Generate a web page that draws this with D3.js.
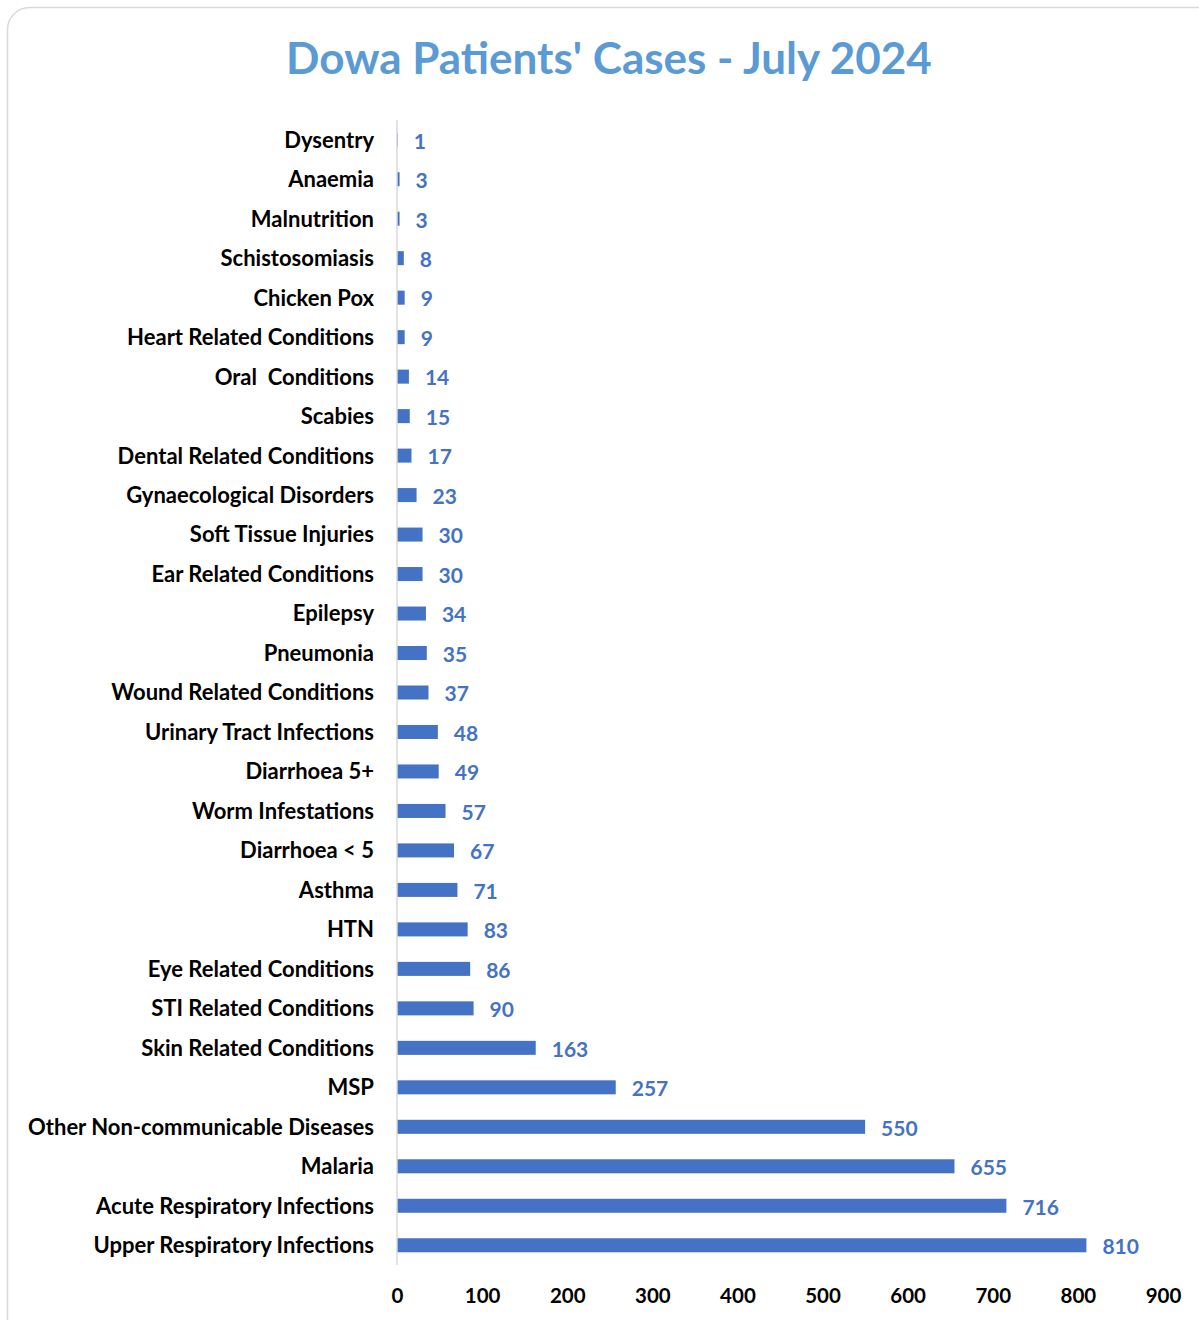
<!DOCTYPE html>
<html lang="en">
<head>
  <meta charset="UTF-8">
  <title>Dowa Patients' Cases - July 2024</title>
  <script src="https://cdn.jsdelivr.net/npm/d3@7"></script>
  <style>
    body { margin: 0; background: #fff; }
    .chart-title { font-family: Lato, "Open Sans", sans-serif; font-size: 44px; font-weight: bold; fill: #5B9BD5; }
    .cat-label { font-family: Lato, "Open Sans", sans-serif; font-size: 22px; font-weight: bold; fill: #000; }
    .value-label { font-family: Lato, "Open Sans", sans-serif; font-size: 21px; font-weight: bold; fill: #4472C4; }
    .x-axis text { font-family: Lato, "Open Sans", sans-serif; font-size: 20.5px; font-weight: bold; fill: #000; }
  </style>
</head>
<body>
  <div id="container"></div>
  <script>
    // Categories, top to bottom as shown
    const categories = [
      "Dysentry", "Anaemia", "Malnutrition", "Schistosomiasis", "Chicken Pox",
      "Heart Related Conditions", "Oral  Conditions", "Scabies", "Dental Related Conditions",
      "Gynaecological Disorders", "Soft Tissue Injuries", "Ear Related Conditions", "Epilepsy",
      "Pneumonia", "Wound Related Conditions", "Urinary Tract Infections", "Diarrhoea 5+",
      "Worm Infestations", "Diarrhoea < 5", "Asthma", "HTN", "Eye Related Conditions",
      "STI Related Conditions", "Skin Related Conditions", "MSP",
      "Other Non-communicable Diseases", "Malaria", "Acute Respiratory Infections",
      "Upper Respiratory Infections"
    ];
    const cases = [
      1, 3, 3, 8, 9, 9, 14, 15, 17, 23, 30, 30, 34, 35, 37, 48, 49, 57, 67, 71,
      83, 86, 90, 163, 257, 550, 655, 716, 810
    ];
    const xTicks = [0, 100, 200, 300, 400, 500, 600, 700, 800, 900];

    const barColor = "#4472C4";
    const width = 1199;
    const height = 1320;
    const margin = { top: 120, right: 36, bottom: 55, left: 397 };

    const svg = d3.select("#container")
      .append("svg")
      .attr("width", width)
      .attr("height", height);

    // chart frame
    svg.append("rect")
      .attr("x", 7.5)
      .attr("y", 7.5)
      .attr("width", width + 20)
      .attr("height", height + 20)
      .attr("rx", 22)
      .attr("fill", "#fff")
      .attr("stroke", "#d9d9d9")
      .attr("stroke-width", 1.5);

    const xScale = d3.scaleLinear()
      .domain([0, 900])
      .range([margin.left, width - margin.right]);

    const yScale = d3.scaleBand()
      .domain(categories)
      .range([margin.top, height - margin.bottom])
      .paddingInner(0.645)
      .paddingOuter(0.3225);

    // bars
    svg.selectAll(".bar")
      .data(categories)
      .enter()
      .append("rect")
      .attr("class", "bar")
      .attr("x", xScale(0))
      .attr("y", d => yScale(d))
      .attr("width", (d, i) => xScale(cases[i]) - xScale(0))
      .attr("height", yScale.bandwidth())
      .attr("fill", barColor);

    // value labels
    svg.selectAll(".value-label")
      .data(categories)
      .enter()
      .append("text")
      .attr("class", "value-label")
      .attr("x", (d, i) => xScale(cases[i]) + 16)
      .attr("y", d => yScale(d) + yScale.bandwidth() / 2)
      .attr("dy", "0.42em")
      .text((d, i) => cases[i]);

    // category labels
    svg.selectAll(".cat-label")
      .data(categories)
      .enter()
      .append("text")
      .attr("class", "cat-label")
      .attr("x", margin.left - 23)
      .attr("y", d => yScale(d) + yScale.bandwidth() / 2)
      .attr("dy", "0.36em")
      .attr("text-anchor", "end")
      .attr("xml:space", "preserve")
      .text(d => d);

    // vertical axis line
    svg.append("line")
      .attr("x1", xScale(0))
      .attr("x2", xScale(0))
      .attr("y1", margin.top)
      .attr("y2", height - margin.bottom)
      .attr("stroke", "#d9d9d9")
      .attr("stroke-width", 1.5);

    // x axis
    const xAxis = svg.append("g")
      .attr("class", "x-axis")
      .attr("transform", `translate(0, ${height - margin.bottom})`)
      .call(d3.axisBottom(xScale).tickValues(xTicks).tickSize(0).tickPadding(23));
    xAxis.select(".domain").remove();

    // title
    svg.append("text")
      .attr("class", "chart-title")
      .attr("x", 609)
      .attr("y", 74)
      .attr("text-anchor", "middle")
      .text("Dowa Patients' Cases - July 2024");
  </script>
</body>
</html>
